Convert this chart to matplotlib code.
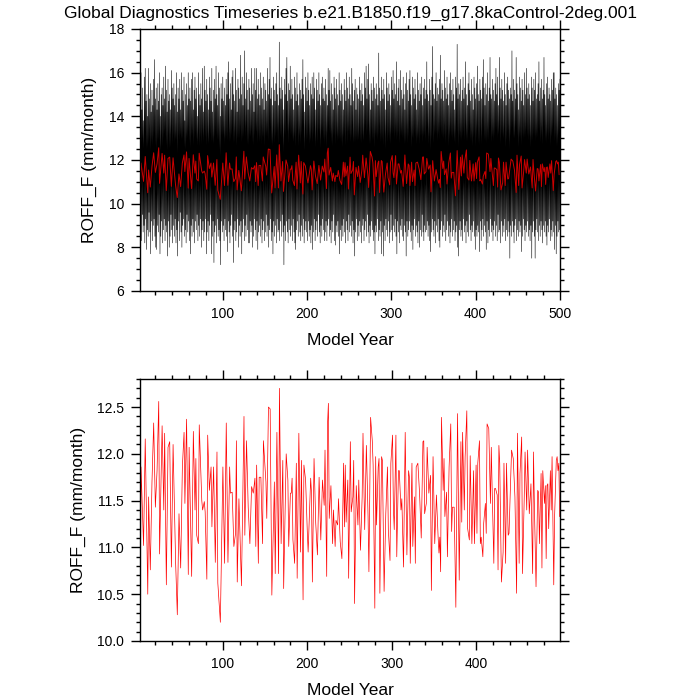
import numpy as np
import matplotlib
matplotlib.use("Agg")
import matplotlib.pyplot as plt
from matplotlib.ticker import MultipleLocator, FormatStrFormatter

plt.rcParams['font.family'] = ['Liberation Sans', 'DejaVu Sans']

title = "Global Diagnostics Timeseries b.e21.B1850.f19_g17.8kaControl-2deg.001"
var_label = "ROFF_F (mm/month)"
x_label = "Model Year"

# annual mean ROFF_F (red line)
ann_year = [
    2, 3, 6, 8, 11, 12, 14, 16, 18, 20,
    22, 24, 25, 28, 30, 31, 33, 35, 37, 39,
    41, 44, 46, 48, 50, 52, 54, 55, 57, 59,
    60, 63, 65, 67, 68, 69, 71, 72, 75, 76,
    78, 79, 81, 82, 84, 86, 87, 89, 91, 93,
    94, 97, 100, 102, 104, 106, 108, 109, 111, 113,
    115, 116, 117, 119, 122, 125, 126, 128, 130, 132,
    134, 136, 138, 139, 140, 142, 143, 145, 147, 148,
    151, 152, 154, 156, 158, 161, 162, 164, 166, 167,
    169, 171, 172, 175, 177, 178, 180, 181, 182, 183,
    185, 187, 188, 190, 192, 193, 195, 196, 198, 200,
    201, 204, 205, 206, 208, 210, 212, 214, 216, 218,
    220, 221, 223, 224, 225, 226, 228, 230, 231, 233,
    234, 236, 237, 239, 241, 243, 244, 245, 246, 248,
    249, 251, 252, 254, 255, 256, 258, 260, 261, 262,
    263, 265, 266, 268, 270, 272, 273, 275, 277, 278,
    280, 281, 282, 284, 285, 286, 288, 289, 291, 293,
    295, 296, 298, 299, 301, 302, 303, 305, 306, 308,
    309, 311, 312, 314, 316, 318, 320, 321, 322, 324,
    325, 327, 328, 329, 331, 333, 335, 337, 338, 339,
    341, 342, 344, 346, 347, 349, 351, 353, 355, 356,
    357, 358, 359, 361, 362, 363, 365, 366, 368, 370,
    371, 372, 374, 376, 378, 380, 382, 383, 384, 386,
    387, 389, 390, 392, 393, 395, 397, 398, 400, 401,
    402, 404, 405, 406, 408, 409, 411, 412, 413, 415,
    417, 418, 419, 421, 422, 423, 425, 426, 427, 428,
    430, 432, 433, 435, 436, 438, 439, 441, 442, 444,
    446, 448, 449, 451, 452, 454, 455, 457, 458, 460,
    461, 463, 465, 467, 468, 469, 471, 473, 474, 475,
    477, 478, 479, 481, 482, 483, 484, 485, 486, 488,
    489, 490, 492, 493, 495, 496, 497, 498, 499,
]
ann_roff = [
    10.05, 11.86, 11.02, 12.16, 10.50, 11.54, 10.76, 11.70, 12.33, 11.43,
    11.82, 12.56, 10.93, 12.30, 11.40, 12.22, 10.60, 12.07, 12.13, 10.79,
    12.10, 10.84, 10.28, 11.36, 10.78, 11.86, 12.23, 11.47, 12.37, 10.71,
    12.07, 10.69, 12.24, 11.40, 11.95, 11.13, 11.04, 12.31, 11.50, 11.40,
    11.49, 11.38, 10.66, 12.20, 11.61, 11.86, 11.22, 11.86, 10.84, 12.02,
    10.62, 10.20, 11.86, 10.83, 12.33, 10.84, 11.86, 11.58, 11.59, 11.01,
    11.15, 12.14, 10.63, 11.52, 10.59, 12.40, 11.13, 12.14, 11.43, 11.04,
    11.65, 11.58, 11.74, 11.01, 11.88, 10.83, 11.75, 11.75, 11.04, 12.14,
    11.70, 11.31, 12.50, 12.48, 10.49, 11.70, 10.72, 12.23, 10.72, 12.70,
    11.04, 11.93, 10.56, 12.00, 11.72, 11.01, 11.58, 11.58, 11.74, 11.08,
    10.83, 11.90, 10.67, 12.22, 10.95, 11.93, 10.44, 11.88, 11.72, 11.17,
    10.95, 11.74, 11.58, 10.63, 11.95, 11.26, 10.92, 11.75, 11.08, 11.72,
    11.45, 12.04, 10.69, 12.32, 12.54, 11.31, 11.66, 11.04, 11.40, 11.01,
    11.29, 11.24, 11.52, 11.06, 10.88, 11.90, 11.22, 11.88, 11.27, 11.72,
    10.67, 12.13, 11.38, 11.54, 11.93, 10.40, 11.66, 11.24, 11.72, 11.36,
    10.97, 11.54, 12.22, 11.19, 12.09, 11.33, 10.74, 12.39, 12.14, 11.88,
    10.35, 11.97, 11.24, 11.86, 11.95, 10.51, 11.97, 11.93, 10.53, 11.36,
    11.86, 11.19, 10.86, 11.90, 12.20, 11.42, 11.19, 12.20, 10.90, 11.82,
    11.82, 11.40, 11.52, 10.79, 12.23, 10.92, 11.82, 11.75, 10.83, 11.90,
    11.01, 11.54, 10.83, 11.86, 11.90, 11.58, 11.10, 12.13, 12.14, 11.36,
    11.47, 12.07, 11.58, 11.77, 10.54, 11.97, 11.04, 11.56, 11.11, 10.94,
    11.11, 10.74, 12.39, 11.61, 11.95, 11.33, 11.59, 10.90, 11.86, 12.32,
    11.17, 11.43, 11.43, 10.36, 12.43, 10.65, 12.13, 11.27, 12.23, 11.40,
    11.97, 12.46, 11.20, 11.08, 11.98, 11.04, 11.82, 11.04, 11.88, 11.15,
    11.90, 12.14, 11.04, 11.11, 10.90, 11.26, 11.47, 11.15, 12.32, 12.27,
    11.47, 12.07, 11.63, 10.83, 11.63, 11.63, 11.56, 10.76, 12.09, 11.90,
    10.63, 10.95, 11.90, 10.83, 11.90, 11.13, 11.15, 11.75, 12.04, 11.95,
    11.54, 10.51, 12.22, 10.83, 11.79, 12.18, 10.72, 11.52, 12.02, 11.40,
    12.04, 11.36, 11.68, 10.72, 12.02, 11.47, 10.58, 11.61, 11.59, 11.04,
    11.79, 10.78, 11.82, 11.47, 11.66, 10.88, 11.66, 11.68, 11.20, 11.82,
    11.40, 11.97, 10.60, 11.33, 11.93, 11.97, 11.82, 11.90, 11.33,
]

# monthly ROFF_F, kept as each year's highest and lowest month (black band)
mon_first_year = 2
mon_max = [
    15.2, 16.0, 14.3, 15.3, 13.8, 15.8, 16.2, 14.7, 15.0, 14.0, 16.2, 14.8, 15.5, 14.2, 15.2, 14.5, 15.7, 16.6, 14.8, 15.3,
    14.3, 15.5, 14.7, 16.0, 14.0, 15.0, 15.3, 14.5, 15.8, 14.8, 16.3, 15.2, 14.2, 15.7, 14.7, 15.0, 14.3, 16.1, 15.3, 14.8,
    15.5, 14.5, 15.0, 16.0, 14.2, 15.3, 14.8, 15.7, 14.3, 16.0, 15.2, 14.7, 15.8, 13.8, 15.0, 15.5, 14.5, 16.0, 14.8, 15.3,
    14.7, 15.7, 16.0, 14.3, 15.2, 15.8, 14.8, 15.3, 14.0, 16.0, 15.0, 14.5, 15.5, 14.8, 16.2, 14.2, 16.3, 15.2, 14.7, 15.7,
    15.0, 14.3, 15.8, 15.3, 14.7, 16.2, 14.2, 15.2, 15.7, 14.8, 16.3, 15.0, 14.5, 16.0, 15.3, 14.0, 15.5, 14.8, 15.8, 14.7,
    15.3, 14.5, 15.7, 15.0, 16.0, 16.5, 14.8, 15.5, 14.3, 15.8, 16.1, 15.0, 14.7, 16.2, 15.2, 14.2, 15.7, 15.3, 14.8, 16.8,
    15.0, 15.8, 14.5, 15.5, 17.0, 14.8, 16.0, 15.2, 14.3, 15.7, 15.3, 14.7, 16.2, 15.0, 15.5, 14.2, 16.2, 15.2, 16.2, 14.8,
    15.7, 15.0, 14.5, 16.0, 15.3, 14.8, 15.8, 14.3, 15.5, 15.2, 14.7, 16.2, 15.0, 15.7, 16.7, 14.8, 15.3, 14.5, 15.8, 15.2,
    14.7, 15.5, 16.0, 15.0, 14.5, 17.4, 15.3, 14.8, 15.8, 15.2, 14.3, 15.7, 15.0, 16.2, 16.7, 14.7, 15.5, 15.2, 16.3, 14.8,
    15.7, 15.0, 14.3, 15.8, 15.3, 14.7, 16.0, 15.0, 14.5, 15.5, 15.2, 14.8, 15.7, 16.6, 15.0, 14.2, 15.8, 15.3, 14.7, 16.0,
    15.2, 14.5, 15.5, 15.0, 15.8, 14.8, 16.0, 15.3, 14.3, 15.7, 15.2, 14.7, 16.0, 15.0, 14.5, 15.5, 15.8, 14.8, 15.3, 14.7,
    15.7, 15.0, 14.5, 16.2, 15.2, 16.1, 14.7, 15.5, 15.0, 14.3, 15.8, 15.3, 14.8, 15.7, 15.0, 14.5, 16.0, 15.2, 14.7, 15.5,
    15.0, 14.3, 15.7, 15.2, 14.7, 16.0, 15.3, 14.8, 15.8, 15.0, 14.5, 16.2, 15.5, 14.7, 15.2, 15.7, 14.3, 15.3, 15.0, 14.8,
    15.8, 15.2, 14.7, 15.5, 15.0, 14.5, 16.0, 15.3, 16.3, 14.8, 15.7, 16.4, 15.0, 14.3, 15.5, 15.2, 14.7, 15.8, 15.3, 14.8,
    15.5, 15.0, 14.5, 16.9, 15.3, 14.7, 15.8, 15.2, 14.8, 15.7, 15.0, 14.3, 16.0, 15.3, 14.7, 15.5, 15.0, 14.5, 15.8, 15.2,
    16.1, 14.8, 15.5, 15.0, 16.5, 14.7, 15.3, 15.7, 14.5, 16.1, 15.2, 14.8, 15.8, 15.0, 14.3, 15.5, 16.0, 15.2, 14.7, 15.7,
    16.1, 15.0, 14.5, 15.8, 15.3, 14.8, 15.7, 15.0, 14.3, 16.0, 15.2, 14.7, 15.5, 15.0, 15.8, 14.5, 15.3, 15.7, 14.8, 15.2,
    16.5, 15.0, 14.7, 15.7, 15.2, 14.5, 15.8, 17.2, 15.0, 14.8, 15.5, 16.0, 14.7, 15.3, 15.0, 15.7, 16.8, 14.8, 15.5, 15.2,
    14.7, 16.1, 15.3, 14.8, 15.8, 15.0, 14.5, 15.5, 16.0, 15.2, 14.7, 15.7, 15.0, 14.3, 15.8, 15.3, 17.3, 14.8, 15.5, 15.0,
    15.7, 14.7, 15.2, 15.8, 14.8, 15.3, 16.5, 15.0, 14.5, 15.5, 16.0, 15.2, 14.7, 15.7, 15.0, 14.3, 15.8, 15.3, 14.8, 15.5,
    16.3, 15.0, 14.7, 15.7, 15.2, 14.8, 15.8, 16.6, 15.3, 14.5, 15.5, 15.0, 16.0, 14.7, 15.3, 16.7, 15.0, 14.8, 15.7, 15.2,
    14.7, 15.5, 16.2, 15.0, 15.8, 14.5, 16.7, 15.3, 14.8, 15.7, 15.2, 14.7, 16.0, 15.0, 14.5, 15.5, 15.8, 15.2, 14.8, 15.3,
    15.0, 17.0, 14.7, 15.7, 15.2, 14.8, 16.7, 15.5, 15.0, 14.3, 15.8, 15.3, 14.7, 15.7, 15.2, 14.5, 16.0, 15.0, 16.2, 15.3,
    14.8, 15.5, 15.0, 14.5, 15.8, 15.3, 14.7, 15.7, 15.2, 16.0, 14.8, 15.0, 15.5, 16.5, 14.7, 15.3, 15.7, 14.8, 15.2, 16.7,
    15.0, 14.5, 15.5, 15.8, 14.8, 15.3, 15.0, 14.7, 15.7, 15.2, 16.0, 16.0, 14.8, 15.3, 15.0, 14.5, 15.5, 15.2, 15.7,
]
mon_min = [
    7.4, 9.2, 8.3, 9.5, 8.7, 9.0, 8.2, 9.3, 7.9, 8.8, 8.5, 9.6, 8.7, 7.7, 9.2, 8.3, 9.0, 9.3, 8.5, 8.0,
    7.9, 9.0, 8.7, 9.5, 7.7, 8.5, 9.2, 8.2, 8.8, 9.3, 8.3, 9.0, 8.7, 7.6, 9.2, 8.0, 8.5, 9.5, 8.8, 8.2,
    9.0, 8.5, 9.3, 8.2, 8.8, 7.6, 9.2, 8.3, 9.6, 8.7, 8.0, 9.0, 9.3, 8.5, 8.8, 8.2, 9.5, 8.7, 9.2, 8.3,
    7.7, 9.0, 8.5, 9.3, 8.7, 8.2, 9.2, 8.8, 9.5, 8.3, 9.0, 8.5, 9.3, 8.0, 8.8, 9.2, 8.3, 8.7, 9.3, 7.7,
    8.7, 9.2, 8.3, 9.0, 9.5, 7.7, 8.5, 9.2, 7.3, 8.7, 9.0, 8.2, 9.3, 8.5, 8.8, 8.3, 7.2, 9.2, 8.7, 9.0,
    8.3, 9.3, 8.8, 8.5, 7.8, 9.2, 8.7, 8.2, 9.0, 9.5, 8.5, 7.3, 8.8, 9.2, 8.3, 8.7, 9.3, 8.0, 9.0, 8.5,
    9.2, 7.7, 8.7, 9.3, 8.3, 9.0, 8.5, 9.5, 8.8, 8.2, 8.2, 9.2, 8.7, 9.0, 8.0, 8.5, 9.3, 8.8, 8.3, 9.2,
    7.9, 8.7, 9.0, 8.5, 9.3, 8.2, 8.8, 9.2, 8.3, 8.7, 9.5, 8.5, 9.0, 8.0, 8.8, 9.3, 8.3, 8.7, 7.7, 9.2,
    8.5, 9.0, 8.2, 9.3, 8.7, 8.8, 8.3, 9.2, 8.5, 9.5, 8.7, 7.2, 9.0, 8.3, 9.2, 8.7, 8.2, 9.3, 8.8, 8.5,
    9.0, 8.3, 9.3, 8.7, 8.2, 7.9, 8.8, 9.2, 8.5, 9.5, 8.7, 8.3, 9.0, 8.5, 9.3, 8.2, 8.8, 9.2, 8.7, 8.3,
    9.2, 8.5, 8.8, 8.2, 9.0, 7.9, 8.7, 9.3, 8.3, 8.8, 9.2, 8.5, 9.5, 8.7, 8.2, 9.0, 8.5, 9.3, 8.8, 8.3,
    8.7, 9.2, 8.3, 9.0, 9.3, 8.5, 8.8, 8.2, 9.2, 8.7, 9.5, 8.3, 8.1, 9.0, 8.7, 9.2, 8.5, 7.7, 8.8, 8.3,
    9.0, 8.5, 9.3, 8.7, 8.2, 9.2, 8.8, 8.3, 9.5, 8.7, 9.0, 8.5, 9.2, 8.2, 8.8, 7.6, 8.7, 9.3, 8.3, 9.0,
    8.5, 9.2, 8.7, 8.2, 9.0, 9.3, 8.3, 8.8, 9.2, 8.5, 9.5, 8.7, 8.2, 9.0, 8.5, 9.2, 8.8, 8.3, 8.7, 7.7,
    9.0, 8.7, 9.3, 8.3, 8.8, 8.5, 9.2, 7.7, 8.7, 7.6, 9.0, 8.3, 9.3, 8.8, 8.5, 9.2, 8.2, 8.7, 9.5, 8.8,
    8.3, 9.0, 8.7, 9.3, 8.5, 7.7, 9.2, 8.7, 8.2, 9.0, 8.8, 9.3, 8.5, 8.3, 9.0, 8.7, 7.6, 9.2, 8.5, 8.8,
    9.2, 8.7, 8.3, 9.0, 7.9, 8.8, 9.3, 8.5, 9.0, 8.7, 8.2, 9.2, 8.0, 8.8, 8.5, 9.5, 8.7, 8.3, 9.0, 8.7,
    8.8, 9.2, 8.5, 9.0, 8.3, 7.8, 8.7, 9.3, 8.8, 8.5, 9.2, 8.2, 9.0, 8.7, 9.3, 8.3, 8.0, 8.8, 9.2, 8.5,
    9.0, 8.7, 9.5, 8.3, 8.8, 9.2, 8.5, 9.0, 8.2, 8.7, 9.3, 8.5, 8.8, 9.2, 8.3, 8.7, 9.0, 8.0, 7.6, 8.8,
    9.2, 8.5, 8.8, 8.3, 9.3, 8.7, 9.0, 8.2, 9.2, 8.7, 8.5, 9.5, 8.8, 8.3, 9.0, 8.7, 9.2, 8.5, 7.9, 8.8,
    8.5, 9.0, 8.7, 7.8, 9.2, 8.3, 8.8, 9.3, 8.5, 9.0, 8.7, 7.9, 9.2, 8.2, 8.8, 8.5, 9.3, 8.7, 9.0, 8.3,
    8.8, 9.2, 8.5, 9.0, 8.3, 9.5, 8.7, 8.8, 8.2, 9.2, 8.5, 9.0, 8.7, 9.3, 8.3, 8.8, 8.5, 9.2, 8.7, 7.5,
    9.0, 8.5, 9.2, 8.7, 8.2, 9.0, 9.3, 8.3, 8.8, 8.5, 9.2, 8.7, 9.0, 7.8, 8.5, 9.3, 8.8, 8.3, 9.0, 8.7,
    9.2, 8.5, 8.8, 8.3, 9.0, 7.5, 8.7, 9.2, 8.5, 7.5, 8.8, 9.3, 8.7, 8.3, 9.0, 8.5, 9.2, 8.8, 8.2, 9.0,
    8.7, 9.2, 8.5, 8.1, 9.0, 8.7, 9.3, 8.3, 8.8, 8.5, 9.2, 8.7, 7.9, 9.0, 7.7, 8.5, 9.2, 8.7, 8.8,
]

n = min(len(mon_max), len(mon_min))
mon_year = np.arange(mon_first_year, mon_first_year + n)
# low month then high month inside each year
mon_x = np.column_stack([mon_year - 0.5, mon_year]).ravel()
mon_y = np.column_stack([mon_min[:n], mon_max[:n]]).ravel()


def style_axes(ax):
    for s in ax.spines.values():
        s.set_linewidth(1.0)
    ax.tick_params(which='both', direction='out', top=True, right=True,
                   width=1.0, labelsize=10, pad=5)
    ax.tick_params(which='major', length=6.5)
    ax.tick_params(which='minor', length=3.2)
    ax.xaxis.set_major_locator(MultipleLocator(100))
    ax.xaxis.set_minor_locator(MultipleLocator(20))


fig = plt.figure(figsize=(7, 7), dpi=100)
ax1 = fig.add_axes([0.2, 0.5843, 0.6, 0.3743])
ax2 = fig.add_axes([0.2, 0.0843, 0.6, 0.3743])

ax1.plot(mon_x, mon_y, color='black', lw=0.4)
ax1.plot(ann_year, ann_roff, color='#cc0000', lw=0.7)
ax1.set_xlim(1.8, 500)
ax1.set_ylim(6, 18)
style_axes(ax1)
ax1.yaxis.set_major_locator(MultipleLocator(2))
ax1.yaxis.set_minor_locator(MultipleLocator(0.5))
ax1.set_ylabel(var_label, fontsize=12.5, labelpad=8)
ax1.set_xlabel(x_label, fontsize=12.5, labelpad=9)

ax2.plot(ann_year, ann_roff, color='red', lw=0.5)
ax2.set_xlim(1.8, 499.4)
ax2.set_ylim(10.0, 12.8)
style_axes(ax2)
ax2.yaxis.set_major_locator(MultipleLocator(0.5))
ax2.yaxis.set_minor_locator(MultipleLocator(0.1))
ax2.yaxis.set_major_formatter(FormatStrFormatter('%.1f'))
ax2.set_ylabel(var_label, fontsize=12.5, labelpad=8)
ax2.set_xlabel(x_label, fontsize=12.5, labelpad=9)

fig.text(0.5, 1 - 18 / 700, title, ha='center', va='baseline', fontsize=12.5)

fig.savefig("out.png", dpi=100)
